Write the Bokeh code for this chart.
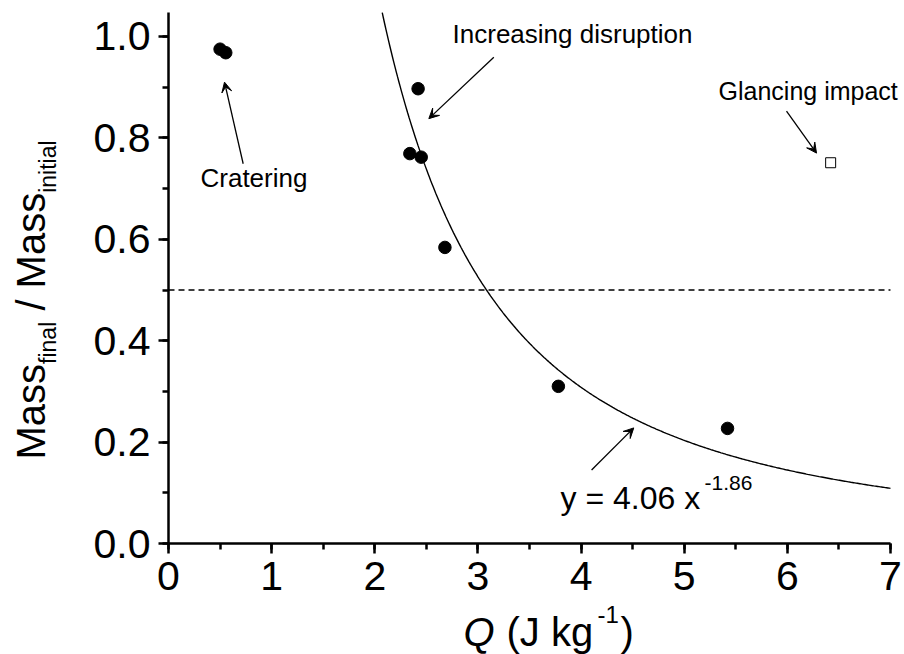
import numpy as np
from bokeh.plotting import figure
from bokeh.models import (Range1d, SingleIntervalTicker, PrintfTickFormatter,
                          Label, Arrow, VeeHead)
from bokeh.embed import file_html
from bokeh.resources import INLINE

# ---------------- data ----------------
q_impact = [0.50, 0.555, 2.42, 2.34, 2.45, 2.68, 3.78, 5.42]
mass_ratio = [0.975, 0.968, 0.897, 0.769, 0.762, 0.584, 0.310, 0.227]
q_glancing = [6.42]
mass_glancing = [0.751]
fit_coeff = 4.06
fit_exponent = -1.86
half_mass = 0.5
x_bounds = (0, 7)
y_bounds = (0, 1.047)

FONT = "Liberation Sans"
PX_X = 103.14   # pixels per x unit
PX_Y = 507.0    # pixels per y unit

# The frame fills the whole canvas; axes are pinned at x=0 / y=0 and bounded,
# so that labels outside the axes are not clipped.
p = figure(width=904, height=654, output_backend="svg", toolbar_location=None,
           x_range=Range1d(-1.629, 7.136), y_range=Range1d(-0.2189, 1.0710),
           min_border_left=0, min_border_right=0, min_border_top=0,
           min_border_bottom=0)
p.outline_line_color = None
p.xgrid.visible = False
p.ygrid.visible = False
p.background_fill_color = "white"
p.border_fill_color = "white"

# axes
p.xaxis.ticker = SingleIntervalTicker(interval=1, num_minor_ticks=2)
p.yaxis.ticker = SingleIntervalTicker(interval=0.2, num_minor_ticks=2)
p.xaxis.formatter = PrintfTickFormatter(format="%d")
p.yaxis.formatter = PrintfTickFormatter(format="%.1f")
p.xaxis.bounds = x_bounds
p.yaxis.bounds = y_bounds
p.xaxis.fixed_location = 0
p.yaxis.fixed_location = 0
for ax in (p.xaxis, p.yaxis):
    ax.axis_line_width = 2.5
    ax.major_tick_line_width = 2.5
    ax.minor_tick_line_width = 2.5
    ax.major_tick_in = 0
    ax.major_tick_out = 10
    ax.minor_tick_in = 0
    ax.minor_tick_out = 6
    ax.major_label_text_font = FONT
    ax.major_label_text_font_size = "41px"
    ax.major_label_text_color = "black"
    ax.axis_line_color = "black"
    ax.major_tick_line_color = "black"
    ax.minor_tick_line_color = "black"
p.xaxis.major_label_standoff = 8
p.yaxis.major_label_standoff = 8

# dashed 50% line
p.line(x=list(x_bounds), y=[half_mass, half_mass], line_color="black",
       line_width=1.5, line_dash="6 4")

# fitted power law curve, drawn from the top of the y axis to x = 7
q_top = (y_bounds[1] / fit_coeff) ** (1.0 / fit_exponent)
q_fit = np.linspace(q_top, x_bounds[1], 400)
m_fit = fit_coeff * q_fit ** fit_exponent
p.line(q_fit, m_fit, line_color="black", line_width=1.4)

# data
p.scatter(q_impact, mass_ratio, marker="circle", size=12.5,
          fill_color="black", line_color="black")
p.scatter(q_glancing, mass_glancing, marker="square", size=10,
          fill_color="white", line_color="black", line_width=1)

# arrows (data coordinates)
arrows = [
    (0.724, 0.749, 0.543, 0.910),
    (3.154, 0.959, 2.524, 0.838),
    (5.992, 0.853, 6.283, 0.770),
    (4.102, 0.145, 4.511, 0.228),
]
for xs, ys, xe, ye in arrows:
    p.add_layout(Arrow(x_start=xs, y_start=ys, x_end=xe, y_end=ye,
                       line_color="black", line_width=1.3,
                       end=VeeHead(size=10, fill_color="black",
                                   line_color="black", line_width=1)))

def lab(x, y, text, size, rotated=False, style="normal"):
    # (x, y) is the intended start of the text baseline
    if rotated:
        x = x - 0.43 * size / PX_X
        angle = np.pi / 2
    else:
        y = y + 0.33 * size / PX_Y
        angle = 0
    p.add_layout(Label(x=x, y=y, text=text,
                       text_font=FONT, text_font_size=f"{size}px",
                       text_font_style=style, text_color="black",
                       text_align="left", text_baseline="alphabetic",
                       angle=angle))

lab(0.310, 0.704, "Cratering", 26)
lab(2.754, 0.988, "Increasing disruption", 26)
lab(5.333, 0.876, "Glancing impact", 25)
lab(3.801, 0.069, "y = 4.06 x", 32)
lab(5.197, 0.105, "-1.86", 21)

# x axis title
lab(2.860, -0.2012, "Q", 40, style="italic")
lab(3.277, -0.2012, "(J kg", 40)
lab(4.159, -0.1558, "-1", 24)
lab(4.382, -0.2012, ")", 40)

# y axis title (rotated, reading upwards)
lab(-1.163, 0.1657, "Mass", 40, rotated=True)
lab(-1.076, 0.3542, "final", 23, rotated=True)
lab(-1.163, 0.4594, "/", 40, rotated=True)
lab(-1.163, 0.5032, "Mass", 40, rotated=True)
lab(-1.076, 0.6917, "initial", 23, rotated=True)

open("out.html", "w").write(file_html(p, INLINE))
